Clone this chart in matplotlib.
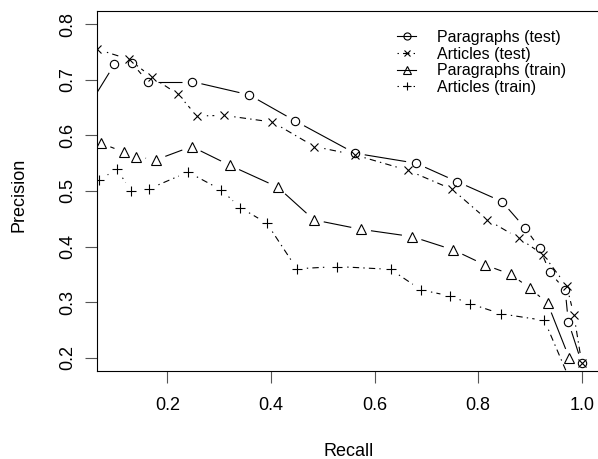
import numpy as np
import matplotlib
matplotlib.use('Agg')
import matplotlib.pyplot as plt
from matplotlib.lines import Line2D

# ---------------- data ----------------
para_test_recall = [0.00, 0.098, 0.131, 0.162, 0.247, 0.358, 0.447, 0.562, 0.680, 0.759,
                    0.846, 0.890, 0.919, 0.938, 0.968, 0.974, 1.000]
para_test_prec = [0.580, 0.728, 0.731, 0.697, 0.697, 0.673, 0.626, 0.568, 0.550, 0.517,
                  0.481, 0.434, 0.397, 0.354, 0.322, 0.265, 0.190]

art_test_recall = [0.065, 0.126, 0.170, 0.221, 0.257, 0.310, 0.403, 0.484, 0.562, 0.665,
                   0.750, 0.818, 0.879, 0.926, 0.971, 0.985, 1.000]
art_test_prec = [0.755, 0.737, 0.705, 0.674, 0.635, 0.636, 0.624, 0.580, 0.565, 0.537,
                 0.503, 0.448, 0.415, 0.385, 0.329, 0.276, 0.190]

para_train_recall = [0.072, 0.116, 0.139, 0.178, 0.247, 0.321, 0.413, 0.483, 0.574, 0.672,
                     0.752, 0.813, 0.863, 0.900, 0.934, 0.976]
para_train_prec = [0.586, 0.570, 0.562, 0.556, 0.580, 0.546, 0.507, 0.448, 0.431, 0.418,
                   0.394, 0.367, 0.350, 0.325, 0.298, 0.199]

art_train_recall = [0.068, 0.103, 0.130, 0.165, 0.240, 0.304, 0.341, 0.392, 0.450, 0.528,
                    0.631, 0.690, 0.746, 0.785, 0.844, 0.928, 1.000]
art_train_prec = [0.520, 0.539, 0.500, 0.504, 0.534, 0.502, 0.470, 0.442, 0.360, 0.364,
                  0.359, 0.322, 0.311, 0.297, 0.279, 0.267, 0.110]

labels = ["Paragraphs (test)", "Articles (test)", "Paragraphs (train)", "Articles (train)"]
x_ticks = [0.2, 0.4, 0.6, 0.8, 1.0]
y_ticks = [0.2, 0.3, 0.4, 0.5, 0.6, 0.7, 0.8]

# ---------------- style ----------------
plt.rcParams['font.family'] = ['Liberation Sans', 'DejaVu Sans']
plt.rcParams['lines.scale_dashes'] = False

DPI = 100
fig = plt.figure(figsize=(5.98, 4.59), dpi=DPI)
ax = fig.add_axes([96.7 / 598, 1 - 370.7 / 459, (603 - 96.7) / 598, (370.7 - 11) / 459])
ax.set_xlim(0.0637, 1.041)
ax.set_ylim(0.1766, 0.8239)

solid = '-'
dotdash = (0, (1.0, 3.0, 4.6, 3.0))
LW = 0.8

series = [
    (para_test_recall, para_test_prec, solid, 'o', 6.0),
    (art_test_recall, art_test_prec, dotdash, 'x', 5.5),
    (para_train_recall, para_train_prec, solid, '^', 6.5),
    (art_train_recall, art_train_prec, dotdash, '+', 7.5),
]

GAP = 10.0  # px gap around each point (R type="b")


def gapped_segments(x, y, gap):
    pts = ax.transData.transform(np.column_stack([x, y]))
    inv = ax.transData.inverted()
    segs = []
    for p0, p1 in zip(pts[:-1], pts[1:]):
        d = p1 - p0
        L = np.hypot(d[0], d[1])
        if L <= 2 * gap:
            continue
        u = d / L
        segs.append(inv.transform(np.array([p0 + u * gap, p1 - u * gap])))
    return segs


handles = []
for (xs, ys, ls, mk, ms), lab in zip(series, labels):
    for seg in gapped_segments(xs, ys, GAP):
        ax.plot(seg[:, 0], seg[:, 1], color='black', lw=LW, linestyle=ls,
                solid_capstyle='butt', dash_capstyle='butt')
    ax.plot(xs, ys, linestyle='none', marker=mk, markersize=ms, mfc='none',
            mec='black', mew=0.8)
    handles.append(Line2D([], [], color='black', lw=LW, linestyle=ls, marker=mk,
                          markersize=ms * 0.85, mfc='none', mec='black', mew=0.8))

ax.legend(handles, labels, loc='upper left', bbox_to_anchor=(397 / 598, 1 - 30 / 459),
          bbox_transform=fig.transFigure, frameon=False, fontsize=11.5,
          handlelength=1.2, handletextpad=1.3, labelspacing=0.1, borderpad=0,
          borderaxespad=0)

# axes / ticks
for s in ['left', 'top', 'bottom']:
    ax.spines[s].set_linewidth(0.8)
    ax.spines[s].set_color('black')
ax.spines['right'].set_visible(False)

ax.set_xticks(x_ticks)
ax.set_xticklabels([f"{v:.1f}" for v in x_ticks])
ax.set_yticks(y_ticks)
ax.set_yticklabels([f"{v:.1f}" for v in y_ticks])
ax.tick_params(axis='both', direction='out', length=8.8, width=0.8, labelsize=13,
               color='#555555')
ax.tick_params(axis='x', pad=10)
ax.tick_params(axis='y', pad=6)
for t in ax.get_yticklabels():
    t.set_rotation(90)
    t.set_va('center')
    t.set_ha('right')

fig.text(348.3 / 598, 1 - 456 / 459, 'Recall', ha='center', va='baseline', fontsize=13)
fig.text(23.5 / 598, 1 - 195 / 459, 'Precision', rotation=90, rotation_mode='anchor',
         ha='center', va='baseline', fontsize=13)

fig.savefig('out.png', dpi=DPI)
